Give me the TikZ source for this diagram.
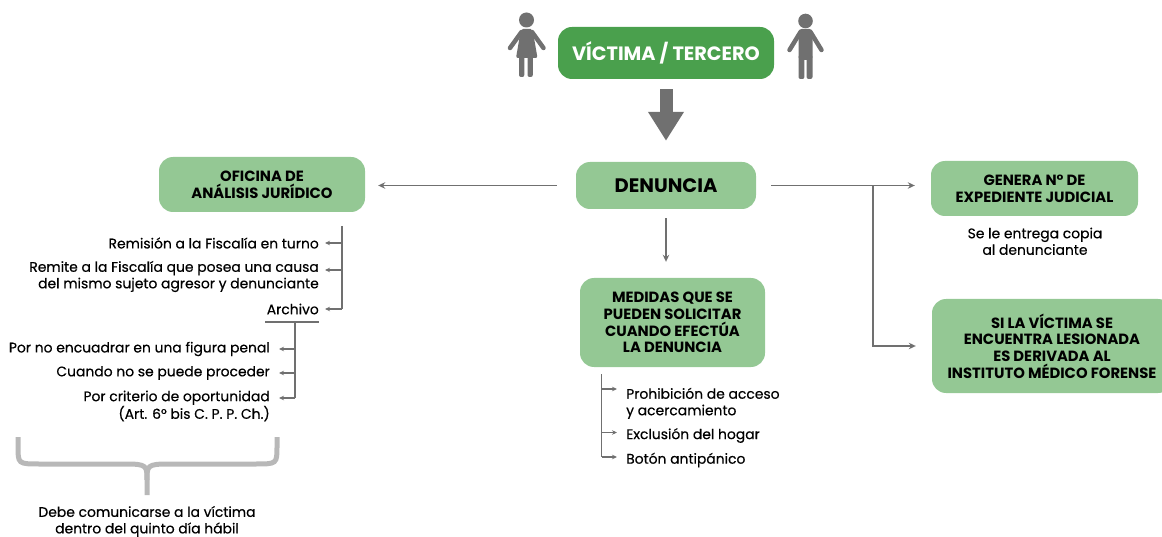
\documentclass[tikz,border=0pt]{standalone}
\usepackage{fontspec}
\setmainfont{Poppins}
\newfontfamily\medfont[FakeBold=0.4]{Poppins}
\usetikzlibrary{arrows.meta}
\definecolor{dgreen}{RGB}{74,160,77}
\definecolor{lgreen}{RGB}{148,200,148}
\definecolor{agray}{RGB}{112,112,112}
\definecolor{bgray}{RGB}{184,184,184}
\begin{document}
\begin{tikzpicture}[x=1pt,y=-1pt,
  box/.style={fill=lgreen, rounded corners=14pt, align=center, text=black, inner sep=0pt,
    font=\bfseries\fontsize{14.8}{16.7}\selectfont},
  conn/.style={draw=agray, line width=1.8pt, -{Stealth[length=7pt,width=6.5pt]}},
  lst/.style={draw=agray, line width=1.3pt},
  lstarrow/.style={lst, -{Stealth[length=5pt,width=4.5pt]}},
  item/.style={font=\medfont\fontsize{13.9}{16.5}\selectfont, inner sep=0pt, text=black},
  person/.style={fill=agray},
  limb/.style={draw=agray, line width=4.5pt, line cap=round}]
\useasboundingbox (0,0) rectangle (1162,537);

% boxes
\node[box, fill=dgreen, text=white, minimum width=216pt, minimum height=52pt,
  font=\bfseries\fontsize{19.3}{21}\selectfont] (vic) at (666,53) {VÍCTIMA / TERCERO};
\node[box, minimum width=180pt, minimum height=47pt,
  font=\bfseries\fontsize{19.5}{21}\selectfont] (den) at (666,185.5) {DENUNCIA};
\node[box, minimum width=206pt, minimum height=55pt] (ofi) at (262,184.5) {OFICINA DE\\ANÁLISIS JURÍDICO};
\node[box, minimum width=207pt, minimum height=55pt] (gen) at (1034.5,188.5) {GENERA N° DE\\EXPEDIENTE JUDICIAL};
\node[box, minimum width=185pt, minimum height=89pt] (med) at (672.5,322.5) {MEDIDAS QUE SE\\PUEDEN SOLICITAR\\CUANDO EFECTÚA\\LA DENUNCIA};
\node[box, minimum width=240pt, minimum height=94pt] (si) at (1052,346) {SI LA VÍCTIMA SE\\ENCUENTRA LESIONADA\\ES DERIVADA AL\\INSTITUTO MÉDICO FORENSE};

% persons
\fill[person] (526.5,20) circle (7.5);
\fill[person, rounded corners=2pt] (521,29) -- (532.5,29) -- (537.5,58) -- (516,58) -- cycle;
\draw[limb] (521.5,32) -- (510,48);
\draw[limb] (532,32) -- (543.5,48);
\fill[person, rounded corners=2pt] (519,55) rectangle (524.3,77);
\fill[person, rounded corners=2pt] (527.5,55) rectangle (532.8,77);

\fill[person] (805.5,21) circle (7.3);
\fill[person, rounded corners=3pt] (798.5,29) rectangle (812.5,60);
\draw[limb] (800.5,32) -- (789.5,50);
\draw[limb] (810.5,32) -- (821.5,50);
\fill[person, rounded corners=2pt] (798.5,55) rectangle (804.4,79);
\fill[person, rounded corners=2pt] (806.6,55) rectangle (812.5,79);

% big arrow
\draw[agray, line width=13pt, -{Triangle[length=29pt,width=34pt]},
  shorten <=10pt, shorten >=21pt] (vic.south) -- (den.north);

% connectors
\draw[conn, shorten <=19pt, shorten >=13pt] (den.west) -- (den.west -| ofi.east);
\draw[conn, shorten <=15pt, shorten >=16pt] (den.east) -- (den.east -| gen.west);
\coordinate (br) at (873,185.5);
\draw[conn, shorten >=16pt] (br) |- (si.west);
\draw[conn, shorten <=9pt, shorten >=16pt] (den.south) -- (den.south |- med.north);

% note under GENERA
\node[item, align=center] (copia) at (1035,241.3) {Se le entrega copia\\al denunciante};

% left list
\coordinate (ltop) at (342,226);
\node[item, anchor=east] (r1) at (319,243) {Remisión a la Fiscalía en turno};
\node[item, anchor=east, align=right] (r2) at (319,276.5) {Remite a la Fiscalía que posea una causa\\del mismo sujeto agresor y denunciante};
\node[item, anchor=east] (r3) at (319,309) {Archivo};
\draw[lst] (ltop) -- (ltop |- r3.east);
\draw[lstarrow, shorten >=6pt] (r1.east -| ltop) -- (r1.east);
\draw[lstarrow, shorten >=6pt] ([yshift=6.5pt]r2.east -| ltop) -- ([yshift=6.5pt]r2.east);
\draw[lstarrow, shorten >=6pt] (r3.east -| ltop) -- (r3.east);

\coordinate (u1) at (265,322);
\coordinate (u2) at (319,322);
\coordinate (utop) at (295,322);
\draw[lst] (u1) -- (u2);
\node[item, anchor=east] (p1) at (270,349) {Por no encuadrar en una figura penal};
\node[item, anchor=east] (p2) at (270,373) {Cuando no se puede proceder};
\node[item, anchor=east, align=right] (p3) at (270,406) {Por criterio de oportunidad\\(Art. 6° bis C. P. P. Ch.)};
\draw[lst] (utop) -- ([yshift=8pt]utop |- p3.east);
\draw[lstarrow, shorten >=9pt] (p1.east -| utop) -- (p1.east);
\draw[lstarrow, shorten >=9pt] (p2.east -| utop) -- (p2.east);
\draw[lstarrow, shorten >=9pt] ([yshift=8pt]p3.east -| utop) -- ([yshift=8pt]p3.east);

% medidas list
\coordinate (mtop) at (601.5,374);
\node[item, anchor=west, align=left] (m1) at (626,403.3) {Prohibición de acceso\\y acercamiento};
\node[item, anchor=west] (m2) at (626,435.5) {Exclusión del hogar};
\node[item, anchor=west] (m3) at (626,460) {Botón antipánico};
\draw[lst] (mtop) -- ([yshift=3pt]mtop |- m3.west);
\draw[lstarrow, shorten >=9pt] ([yshift=14.3pt]m1.west -| mtop) -- ([yshift=14.3pt]m1.west);
\draw[lstarrow, shorten >=9pt] ([yshift=3pt]m2.west -| mtop) -- ([yshift=3pt]m2.west);
\draw[lstarrow, shorten >=9pt] ([yshift=3pt]m3.west -| mtop) -- ([yshift=3pt]m3.west);

% brace
\draw[bgray, line width=5pt]
  (18,437) -- (18,446) .. controls (18,464) and (18,464) .. (40,464) -- (126,464)
  .. controls (147,464) and (147,466) .. (147,480) -- (147,495);
\draw[bgray, line width=5pt]
  (277,437) -- (277,446) .. controls (277,464) and (277,464) .. (255,464) -- (168,464)
  .. controls (147,464) and (147,466) .. (147,480);
\node[item, align=center] (brtext) at (147,521.5) {Debe comunicarse a la víctima\\dentro del quinto día hábil};
\end{tikzpicture}
\end{document}
